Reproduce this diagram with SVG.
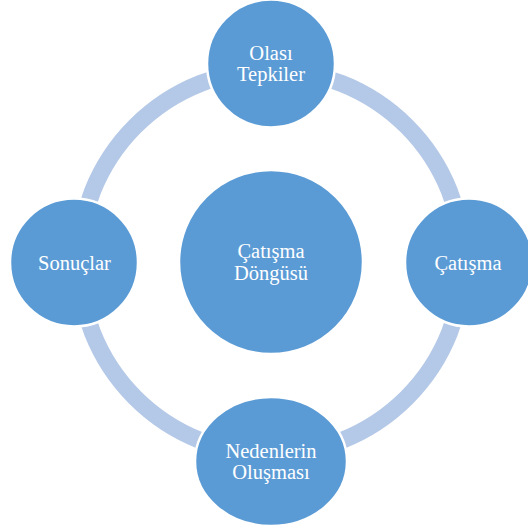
<svg xmlns="http://www.w3.org/2000/svg" width="528" height="530" viewBox="0 0 528 530">
<style>
.arc{fill:none;stroke:#B4C8E7;stroke-width:17}
.node{fill:#5B9BD5;stroke:#FFFFFF;stroke-width:2.5}
.lbl{font-family:'Liberation Serif','Times New Roman',Times,'DejaVu Serif',serif;font-size:20.5px;fill:#FFFFFF;text-anchor:middle}
</style>
<rect width="528" height="530" fill="#FFFFFF"/>
<g id="connectors">
<path class="arc" d="M271,70 A192,192 0 0 1 463,262"/>
<path class="arc" d="M463,262 A192,192 0 0 1 271,454"/>
<path class="arc" d="M271,454 A192,192 0 0 1 79,262"/>
<path class="arc" d="M79,262 A192,192 0 0 1 271,70"/>
</g>
<g id="center">
<circle class="node" cx="271" cy="262" r="92"/>
<text class="lbl" x="271" y="258" font-family="Liberation Serif, serif">Çatışma</text>
<text class="lbl" x="271" y="280" font-family="Liberation Serif, serif">Döngüsü</text>
</g>
<g id="olasi-tepkiler">
<circle class="node" cx="271" cy="63.5" r="64"/>
<text class="lbl" x="271" y="59.5">Olası</text>
<text class="lbl" x="271" y="81">Tepkiler</text>
</g>
<g id="catisma">
<circle class="node" cx="469" cy="262.5" r="64"/>
<text class="lbl" x="468" y="270">Çatışma</text>
</g>
<g id="nedenlerin-olusmasi">
<ellipse class="node" cx="271" cy="461.5" rx="76" ry="64.5"/>
<text class="lbl" x="271" y="457.5">Nedenlerin</text>
<text class="lbl" x="271" y="478.5">Oluşması</text>
</g>
<g id="sonuclar">
<circle class="node" cx="74" cy="262.5" r="64"/>
<text class="lbl" x="74.5" y="270">Sonuçlar</text>
</g>
</svg>
